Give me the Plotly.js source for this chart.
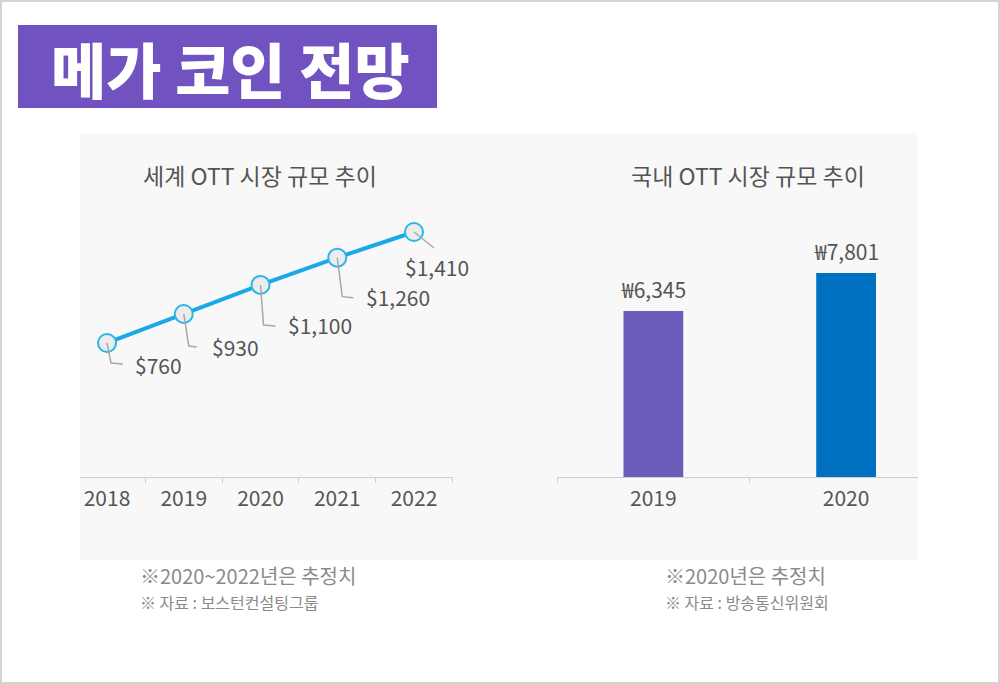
<!DOCTYPE html>
<html>
<head>
<meta charset="utf-8">
<script src="https://cdn.plot.ly/plotly-3.0.1.min.js"></script>
<style>
  html, body { margin: 0; padding: 0; background: #ffffff; }
  #chart { width: 1000px; height: 684px; }
</style>
</head>
<body>
<div id="chart"></div>
<script>
// ---------- data ----------
const pageTitle = '메가 코인 전망';
const globalTitle = '세계 OTT 시장 규모 추이';
const domesticTitle = '국내 OTT 시장 규모 추이';
const globalYears = ['2018', '2019', '2020', '2021', '2022'];
const globalMarket = [760, 930, 1100, 1260, 1410];
const domesticYears = ['2019', '2020'];
const domesticMarket = [6345, 7801];
const globalNote = '※2020~2022년은 추정치';
const globalSource = '※ 자료 : 보스턴컨설팅그룹';
const domesticNote = '※2020년은 추정치';
const domesticSource = '※ 자료 : 방송통신위원회';

// ---------- styling ----------
const FONT = '"Noto Sans CJK KR", "Noto Sans", sans-serif';
const TEXT = '#555555';
const NOTE = '#8a8a8a';
const barColors = ['#6a5cb8', '#0070c0'];
// label placement relative to each point (pixels)
const labelShift = [[26, -22], [26, -33], [25, -40], [27, -39], [-11, -35]];
const leaderPaths = [
  'M0,0L4,-20L16,-21',
  'M0,0L5,-32L13,-33',
  'M0,0L3,-40L15,-41',
  'M0,0L5,-39L16,-40',
  'M0,0L20,-16'
];

const H = 684;
const py = v => (H - v) / H;   // pixel y -> paper
const px = v => v / 1000;      // pixel x -> paper

const fmt = v => v.toLocaleString('en-US');

const traces = [
  {
    type: 'scatter', mode: 'lines+markers',
    x: globalYears, y: globalMarket,
    xaxis: 'x', yaxis: 'y',
    line: { color: '#19a9e8', width: 4 },
    marker: { size: 18, color: '#ececec', line: { color: '#2bb6ea', width: 2 } },
    hoverinfo: 'skip', cliponaxis: false
  },
  {
    type: 'bar',
    x: domesticYears, y: domesticMarket,
    xaxis: 'x2', yaxis: 'y2',
    width: 0.31,
    marker: { color: barColors, line: { width: 0 } },
    hoverinfo: 'skip'
  }
];

const annotations = [];
const shapes = [];

// background panel + borders
shapes.push({ type: 'rect', xref: 'paper', yref: 'paper', x0: px(80), x1: px(918), y0: py(560), y1: py(133),
  fillcolor: '#f8f8f8', line: { width: 0 }, layer: 'below' });
shapes.push({ type: 'rect', xref: 'paper', yref: 'paper', x0: px(1), x1: px(999), y0: py(683), y1: py(1),
  fillcolor: 'rgba(0,0,0,0)', line: { color: '#d3d3d3', width: 2 }, layer: 'below' });
shapes.push({ type: 'rect', xref: 'paper', yref: 'paper', x0: px(18), x1: px(437), y0: py(108), y1: py(25),
  fillcolor: '#7052c0', line: { width: 0 }, layer: 'below' });

annotations.push({ xref: 'paper', yref: 'paper', x: px(230), y: py(67), text: pageTitle, showarrow: false,
  xanchor: 'center', yanchor: 'middle', font: { family: FONT, size: 60, color: '#ffffff', weight: 900 } });

annotations.push({ xref: 'paper', yref: 'paper', x: px(260), y: py(175), text: globalTitle, showarrow: false,
  xanchor: 'center', yanchor: 'middle', font: { family: FONT, size: 23, color: TEXT } });
annotations.push({ xref: 'paper', yref: 'paper', x: px(748), y: py(175), text: domesticTitle, showarrow: false,
  xanchor: 'center', yanchor: 'middle', font: { family: FONT, size: 23, color: TEXT } });

// value labels + leader lines for line chart (category axes use the category index)
globalYears.forEach((yr, i) => {
  annotations.push({ xref: 'x', yref: 'y', x: i, y: globalMarket[i], text: '$' + fmt(globalMarket[i]),
    showarrow: false, xanchor: 'left', yanchor: 'middle', xshift: labelShift[i][0], yshift: labelShift[i][1],
    font: { family: FONT, size: 21, color: TEXT } });
  shapes.push({ type: 'path', xref: 'x', yref: 'y', xsizemode: 'pixel', ysizemode: 'pixel',
    xanchor: i, yanchor: globalMarket[i], path: leaderPaths[i],
    line: { color: '#a8a8a8', width: 1.5 }, layer: 'above' });
});

// value labels for bars
domesticYears.forEach((yr, i) => {
  annotations.push({ xref: 'x2', yref: 'y2', x: i, y: domesticMarket[i], text: '₩' + fmt(domesticMarket[i]),
    showarrow: false, xanchor: 'center', yanchor: 'middle', yshift: 22,
    font: { family: FONT, size: 21, color: TEXT } });
});

// notes
[[globalNote, 139, 575, 20], [globalSource, 139, 602, 16], [domesticNote, 664, 575, 20], [domesticSource, 664, 602, 16]]
  .forEach(([t, x, y, s]) => annotations.push({ xref: 'paper', yref: 'paper', x: px(x), y: py(y), text: t,
    showarrow: false, xanchor: 'left', yanchor: 'middle', borderpad: 0, font: { family: FONT, size: s, color: NOTE } }));

const xCommon = {
  type: 'category', showgrid: false, zeroline: false,
  showline: true, linecolor: '#cfcfcf', linewidth: 1,
  ticks: 'outside', ticklen: 5, tickcolor: '#cfcfcf', tickson: 'boundaries',
  tickfont: { family: FONT, size: 21, color: TEXT }, ticklabelstandoff: 3, fixedrange: true
};
const yCommon = { visible: false, showgrid: false, zeroline: false, fixedrange: true,
  domain: [py(477), py(133)] };

const layout = {
  width: 1000, height: 684,
  margin: { l: 0, r: 0, t: 0, b: 0 },
  paper_bgcolor: '#ffffff', plot_bgcolor: 'rgba(0,0,0,0)',
  showlegend: false,
  font: { family: FONT, color: TEXT },
  xaxis: Object.assign({}, xCommon, { domain: [px(80), px(453)], range: [-0.352, 4.508], anchor: 'y' }),
  yaxis: Object.assign({}, yCommon, { range: [-25, 1990], anchor: 'x' }),
  xaxis2: Object.assign({}, xCommon, { domain: [px(557), px(918)], range: [-0.5, 1.373], anchor: 'y2' }),
  yaxis2: Object.assign({}, yCommon, { range: [0, 13150], anchor: 'x2' }),
  shapes: shapes,
  annotations: annotations
};

Plotly.newPlot('chart', traces, layout, { displayModeBar: false, staticPlot: true });
</script>
</body>
</html>
